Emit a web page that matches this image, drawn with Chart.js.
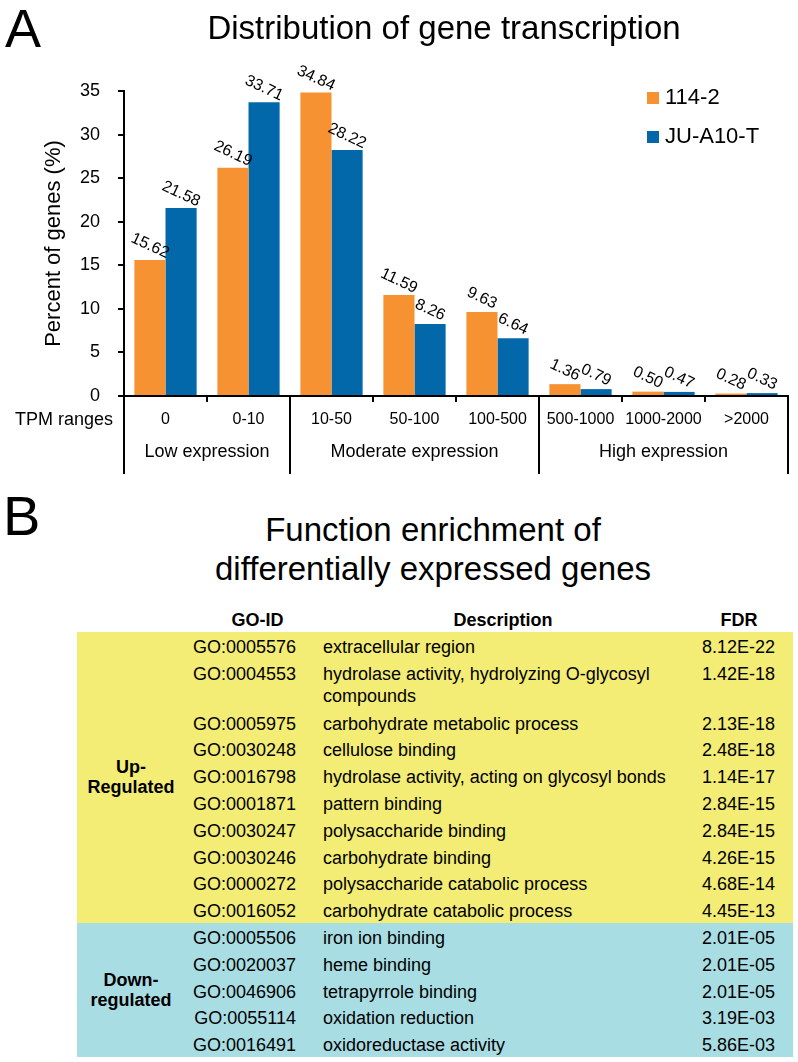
<!DOCTYPE html>
<html>
<head>
<meta charset="utf-8">
<script src="https://cdn.jsdelivr.net/npm/chart.js@4/dist/chart.umd.min.js"></script>
<style>
  html, body { margin: 0; padding: 0; background: #fff; }
  body { width: 798px; height: 1062px; position: relative; overflow: hidden;
         font-family: "Liberation Sans", Arial, sans-serif; color: #000; }
  #chart { position: absolute; left: 0; top: 0; }
  .letter { position: absolute; line-height: 1; white-space: nowrap; }
  .ptitle { position: absolute; left: 0; text-align: center; white-space: nowrap; font-size: 33px; }
  #goTable { position: absolute; left: 77px; top: 605px; width: 716px;
             table-layout: fixed; border-collapse: collapse; border-spacing: 0; font-size: 18px; }
  #goTable td { padding: 4.3px 0 0 0; line-height: 22px; vertical-align: top; }
  #goTable tr.row { height: 26.8px; }
  #goTable tr.wrap { height: 49.5px; }
  #goTable tr.head { height: 27px; }
  #goTable tr.head td { font-weight: bold; text-align: center; }
  #goTable td.grp { font-weight: bold; text-align: center; vertical-align: middle;
                    line-height: 20px; padding: 0; white-space: pre-line; }
  #goTable td.id { text-align: right; }
  #goTable td.desc { padding-left: 27px; }
  #goTable td.fdr { text-align: right; padding-right: 18px; }
  .up { background: #f3ec75; }
  .down { background: #a9dde4; }
</style>
</head>
<body>
<canvas id="chart" width="798" height="475"></canvas>
<div class="letter" style="left:5px; top:1px; font-size:54px;">A</div>
<div class="ptitle" style="width:888px; top:11px; line-height:1;">Distribution of gene transcription</div>
<div class="letter" style="left:3px; top:488px; font-size:56px;">B</div>
<div class="ptitle" style="width:866px; top:510px; line-height:39px;">Function enrichment of<br>differentially expressed genes</div>
<table id="goTable">
  <colgroup><col style="width:108px"><col style="width:111px"><col style="width:394px"><col style="width:103px"></colgroup>
  <tbody id="goBody"></tbody>
</table>
<script>
  // Panel A data
  const categories = ['0', '0-10', '10-50', '50-100', '100-500', '500-1000', '1000-2000', '>2000'];
  const seriesNames = ['114-2', 'JU-A10-T'];
  const values114 = [15.62, 26.19, 34.84, 11.59, 9.63, 1.36, 0.50, 0.28];
  const valuesJU = [21.58, 33.71, 28.22, 8.26, 6.64, 0.79, 0.47, 0.33];
  const seriesColors = ['#f79232', '#0368aa'];
  const groupLabels = ['Low expression', 'Moderate expression', 'High expression'];
  const groupSizes = [2, 3, 3];
  const axisCaption = 'TPM ranges';
  const yTitle = 'Percent of genes (%)';

  // Panel B data
  const headers = ['GO-ID', 'Description', 'FDR'];
  const regulationLabels = ['Up-\nRegulated', 'Down-\nregulated'];
  const regulationCounts = [10, 5];
  const goIds = ['GO:0005576', 'GO:0004553', 'GO:0005975', 'GO:0030248', 'GO:0016798', 'GO:0001871',
    'GO:0030247', 'GO:0030246', 'GO:0000272', 'GO:0016052',
    'GO:0005506', 'GO:0020037', 'GO:0046906', 'GO:0055114', 'GO:0016491'];
  const goDescriptions = ['extracellular region', 'hydrolase activity, hydrolyzing O-glycosyl compounds',
    'carbohydrate metabolic process', 'cellulose binding', 'hydrolase activity, acting on glycosyl bonds',
    'pattern binding', 'polysaccharide binding', 'carbohydrate binding', 'polysaccharide catabolic process',
    'carbohydrate catabolic process',
    'iron ion binding', 'heme binding', 'tetrapyrrole binding', 'oxidation reduction', 'oxidoreductase activity'];
  const goFdr = ['8.12E-22', '1.42E-18', '2.13E-18', '2.48E-18', '1.14E-17', '2.84E-15', '2.84E-15',
    '4.26E-15', '4.68E-14', '4.45E-13',
    '2.01E-05', '2.01E-05', '2.01E-05', '3.19E-03', '5.86E-03'];

  const FONT = '"Liberation Sans", Arial, sans-serif';
  Chart.defaults.font.family = FONT;
  Chart.defaults.color = '#000';

  // labels, legend and the grouped x axis are drawn here
  const extras = {
    id: 'extras',
    afterDatasetsDraw(chart) {
      const ctx = chart.ctx;
      ctx.save();
      ctx.font = '16px ' + FONT;
      ctx.fillStyle = '#000';
      ctx.textAlign = 'center';
      ctx.textBaseline = 'middle';
      chart.data.datasets.forEach((ds, di) => {
        chart.getDatasetMeta(di).data.forEach((bar, i) => {
          ctx.save();
          ctx.translate(bar.x, bar.y - 14);
          ctx.rotate(25 * Math.PI / 180);
          ctx.fillText(ds.data[i].toFixed(2), 0, 0);
          ctx.restore();
        });
      });
      ctx.restore();
    },
    afterDraw(chart) {
      const ctx = chart.ctx;
      const x = chart.scales.x, y = chart.scales.y;
      const half = (x.getPixelForValue(1) - x.getPixelForValue(0)) / 2;
      ctx.save();
      ctx.strokeStyle = '#000';
      ctx.lineWidth = 2;
      ctx.fillStyle = '#000';
      ctx.font = '18px ' + FONT;
      ctx.textAlign = 'center';
      ctx.textBaseline = 'middle';
      let start = 0;
      groupLabels.forEach((g, gi) => {
        const end = start + groupSizes[gi] - 1;
        const x0 = Math.round(x.getPixelForValue(start) - half);
        const x1 = Math.round(x.getPixelForValue(end) + half);
        ctx.beginPath();
        ctx.moveTo(x0, y.bottom);
        ctx.lineTo(x0, 474);
        if (gi === groupLabels.length - 1) {
          ctx.moveTo(x1, y.bottom);
          ctx.lineTo(x1, 474);
        }
        ctx.stroke();
        ctx.fillText(g, (x0 + x1) / 2, 452);
        start = end + 1;
      });
      ctx.textAlign = 'right';
      ctx.fillText(axisCaption, x.left - 11, 420);

      // legend
      ctx.textAlign = 'left';
      ctx.font = '22px ' + FONT;
      chart.data.datasets.forEach((ds, di) => {
        const ly = 92 + di * 39;
        ctx.fillStyle = ds.backgroundColor;
        ctx.fillRect(647, ly, 12, 12);
        ctx.fillStyle = '#000';
        ctx.fillText(ds.label, 665, ly + 6);
      });
      ctx.restore();
    }
  };

  new Chart(document.getElementById('chart'), {
    type: 'bar',
    data: {
      labels: categories,
      datasets: [
        { label: seriesNames[0], data: values114, backgroundColor: seriesColors[0] },
        { label: seriesNames[1], data: valuesJU, backgroundColor: seriesColors[1] }
      ]
    },
    options: {
      responsive: false,
      animation: false,
      devicePixelRatio: 1,
      layout: { padding: { left: 0, right: 10, top: 91, bottom: 0 } },
      datasets: { bar: { categoryPercentage: 0.75, barPercentage: 1.0 } },
      plugins: { legend: { display: false }, tooltip: { enabled: false } },
      scales: {
        x: {
          grid: { drawOnChartArea: false, drawTicks: true, tickLength: 6, color: '#000', lineWidth: 2 },
          border: { color: '#000', width: 2 },
          ticks: { font: { size: 16 }, padding: 8, autoSkip: false, maxRotation: 0, color: '#000' },
          afterFit(scale) { scale.height = 79; }
        },
        y: {
          min: 0, max: 35,
          grid: { drawOnChartArea: false, drawTicks: true, tickLength: 6, color: '#000', lineWidth: 2 },
          border: { color: '#000', width: 2 },
          ticks: { stepSize: 5, font: { size: 18 }, padding: 18, color: '#000' },
          title: { display: true, text: yTitle, font: { size: 22 }, padding: { top: 41, bottom: 0 }, color: '#000' },
          afterFit(scale) { scale.width = 124; }
        }
      }
    },
    plugins: [extras]
  });

  // Panel B table
  const body = document.getElementById('goBody');
  const head = body.insertRow();
  head.className = 'head';
  head.insertCell();
  const hId = head.insertCell(); hId.textContent = headers[0]; hId.style.paddingLeft = '34px';
  const hDesc = head.insertCell(); hDesc.textContent = headers[1]; hDesc.style.paddingLeft = '20px';
  const hFdr = head.insertCell(); hFdr.textContent = headers[2]; hFdr.style.paddingRight = '5px';

  let k = 0;
  regulationLabels.forEach((lab, gi) => {
    const cls = gi === 0 ? 'up' : 'down';
    for (let j = 0; j < regulationCounts[gi]; j++, k++) {
      const row = body.insertRow();
      row.className = (goDescriptions[k].length > 45 ? 'wrap ' : 'row ') + cls;
      if (j === 0) {
        const g = row.insertCell();
        g.className = 'grp';
        g.rowSpan = regulationCounts[gi];
        g.textContent = lab;
      }
      const c1 = row.insertCell(); c1.className = 'id'; c1.textContent = goIds[k];
      const c2 = row.insertCell(); c2.className = 'desc'; c2.textContent = goDescriptions[k];
      const c3 = row.insertCell(); c3.className = 'fdr'; c3.textContent = goFdr[k];
    }
  });
</script>
</body>
</html>
